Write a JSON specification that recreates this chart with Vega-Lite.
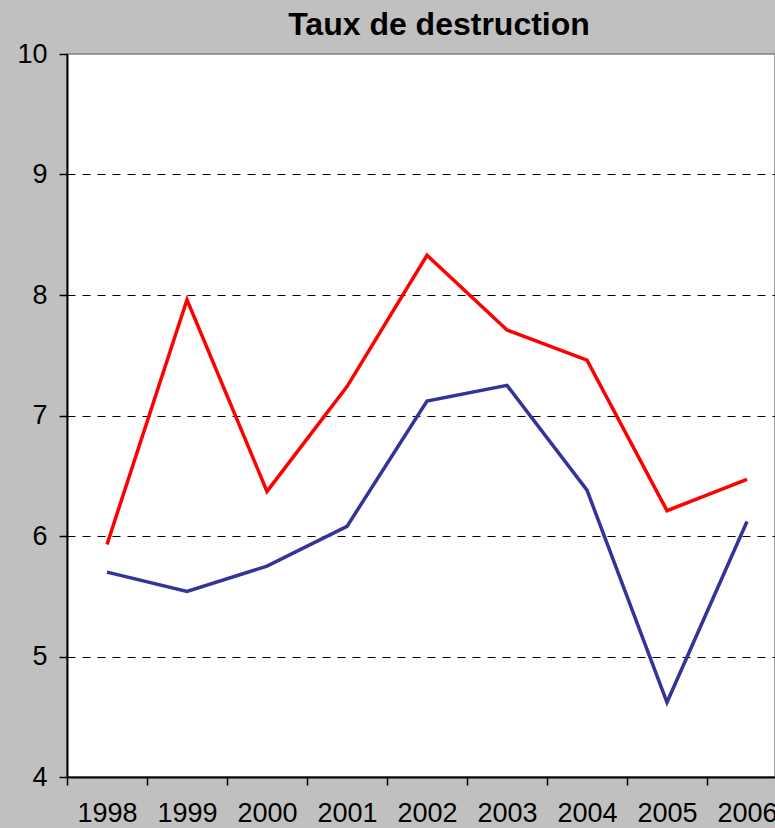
{
  "$schema": "https://vega.github.io/schema/vega-lite/v6.json",
  "width": 708,
  "height": 723,
  "autosize": {"type": "none"},
  "padding": {"left": 67, "top": 54, "right": 0, "bottom": 51},
  "background": "#c0c0c0",
  "title": {
    "text": "Taux de destruction",
    "font": "Liberation Sans, Arial, sans-serif",
    "fontSize": 32,
    "fontWeight": "bold",
    "color": "black",
    "anchor": "middle",
    "frame": "group",
    "dx": 18,
    "offset": -2
  },
  "config": {
    "view": {"fill": "white", "stroke": "#808080", "strokeWidth": 1.5},
    "font": "Liberation Sans, Arial, sans-serif"
  },
  "data": {
    "values": [
      {"year": 1998, "series": "A", "value": 5.93},
      {"year": 1999, "series": "A", "value": 7.96},
      {"year": 2000, "series": "A", "value": 6.37},
      {"year": 2001, "series": "A", "value": 7.24},
      {"year": 2002, "series": "A", "value": 8.33},
      {"year": 2003, "series": "A", "value": 7.71},
      {"year": 2004, "series": "A", "value": 7.46},
      {"year": 2005, "series": "A", "value": 6.21},
      {"year": 2006, "series": "A", "value": 6.47},
      {"year": 1998, "series": "B", "value": 5.70},
      {"year": 1999, "series": "B", "value": 5.54},
      {"year": 2000, "series": "B", "value": 5.75},
      {"year": 2001, "series": "B", "value": 6.08},
      {"year": 2002, "series": "B", "value": 7.12},
      {"year": 2003, "series": "B", "value": 7.25},
      {"year": 2004, "series": "B", "value": 6.38},
      {"year": 2005, "series": "B", "value": 4.62},
      {"year": 2006, "series": "B", "value": 6.12}
    ]
  },
  "mark": {"type": "line", "strokeWidth": 3.5, "clip": true},
  "encoding": {
    "x": {
      "field": "year",
      "type": "quantitative",
      "scale": {"domain": [1997.5, 2006.35], "nice": false, "zero": false},
      "axis": {
        "title": null,
        "values": [1997.5, 1998.5, 1999.5, 2000.5, 2001.5, 2002.5, 2003.5, 2004.5, 2005.5],
        "labelExpr": "toString(datum.value + 0.5)",
        "labelOffset": 40,
        "labelBound": false,
        "labelFlush": false,
        "labelOverlap": false,
        "labelFontSize": 27,
        "labelColor": "black",
        "labelPadding": 15,
        "labelBaseline": "top",
        "domainColor": "black",
        "domainWidth": 2,
        "tickColor": "black",
        "tickWidth": 1.5,
        "tickSize": 8,
        "grid": false
      }
    },
    "y": {
      "field": "value",
      "type": "quantitative",
      "scale": {"domain": [4, 10], "nice": false, "zero": false},
      "axis": {
        "title": null,
        "values": [4, 5, 6, 7, 8, 9, 10],
        "labelFontSize": 27,
        "labelColor": "black",
        "labelPadding": 12,
        "domainColor": "black",
        "domainWidth": 2,
        "tickColor": "black",
        "tickWidth": 1.5,
        "tickSize": 8,
        "grid": true,
        "gridColor": "black",
        "gridDash": [8, 7],
        "gridWidth": 1,
        "gridOpacity": {"condition": {"test": "datum.value == 10 || datum.value == 4", "value": 0}, "value": 1}
      }
    },
    "color": {
      "field": "series",
      "type": "nominal",
      "scale": {"domain": ["A", "B"], "range": ["#ff0000", "#333399"]},
      "legend": null
    }
  }
}
